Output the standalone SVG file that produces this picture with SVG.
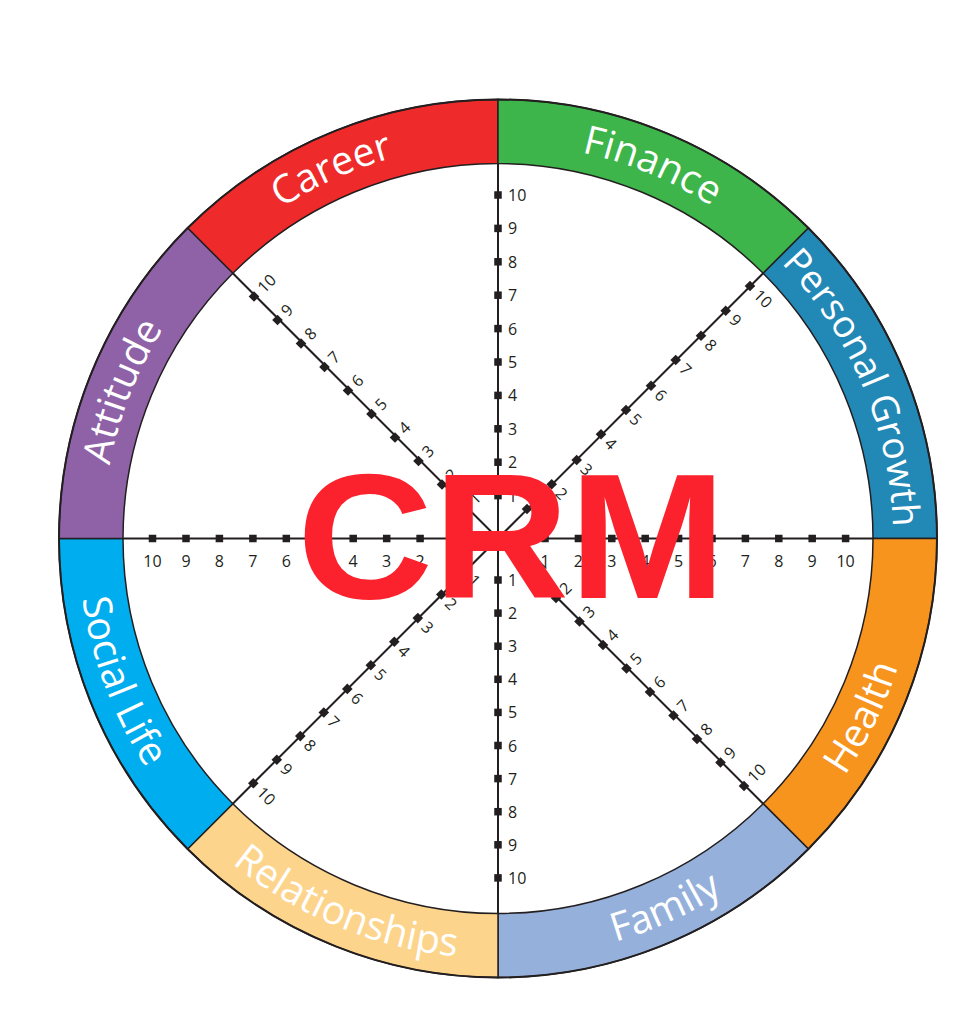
<svg xmlns="http://www.w3.org/2000/svg" xmlns:xlink="http://www.w3.org/1999/xlink" width="958" height="1024" viewBox="0 0 958 1024">
<style>
.seg{stroke:#231f20;stroke-width:1.5}
.ring{font-family:"Open Sans","Liberation Sans",sans-serif;font-size:39.5px;fill:#ffffff}
.pg{font-size:37.5px}
.tk{font-family:"Open Sans","Liberation Sans",sans-serif;font-size:16px;fill:#231f20}
.hc{text-anchor:middle}
.sp{stroke:#231f20;stroke-width:2;fill:none}
.crm{font-family:"Liberation Sans",Arial,sans-serif;font-weight:bold;font-size:178px;fill:#fb222d}
</style>
<defs>
<rect id="sq" x="-3.75" y="-3.75" width="7.5" height="7.5" fill="#231f20"/>
<rect id="dm" x="-3.75" y="-3.75" width="7.5" height="7.5" fill="#231f20" transform="rotate(45)"/>
<path id="p_att" d="M103,538.5 A395,395 0 0 1 218.69,259.19"/>
<path id="p_car" d="M218.69,259.19 A395,395 0 0 1 498,143.5"/>
<path id="p_fin" d="M498,143.5 A395,395 0 0 1 777.31,259.19"/>
<path id="p_pg" d="M777.31,259.19 A395,395 0 0 1 893,538.5"/>
<path id="p_hea" d="M794.98,835.48 A420,420 0 0 0 918,538.5"/>
<path id="p_fam" d="M498,958.5 A420,420 0 0 0 794.98,835.48"/>
<path id="p_rel" d="M201.02,835.48 A420,420 0 0 0 498,958.5"/>
<path id="p_soc" d="M78,538.5 A420,420 0 0 0 201.02,835.48"/>
</defs>
<rect width="958" height="1024" fill="#ffffff"/>

<g id="career">
<path class="seg" fill="#ee2a2b" d="M187.58,228.08 A439,439 0 0 1 498,99.5 L498,163.5 A375,375 0 0 0 232.83,273.33 Z"/>
<text class="ring"><textPath href="#p_car" startOffset="46%" text-anchor="middle">Career</textPath></text>
</g>
<g id="finance">
<path class="seg" fill="#3db54a" d="M498,99.5 A439,439 0 0 1 808.42,228.08 L763.17,273.33 A375,375 0 0 0 498,163.5 Z"/>
<text class="ring"><textPath href="#p_fin" startOffset="50%" text-anchor="middle">Finance</textPath></text>
</g>
<g id="personal-growth">
<path class="seg" fill="#2288b6" d="M808.42,228.08 A439,439 0 0 1 937,538.5 L873,538.5 A375,375 0 0 0 763.17,273.33 Z"/>
<text class="ring pg"><textPath href="#p_pg" startOffset="49%" text-anchor="middle">Personal Growth</textPath></text>
</g>
<g id="health">
<path class="seg" fill="#f7941e" d="M937,538.5 A439,439 0 0 1 808.42,848.92 L763.17,803.67 A375,375 0 0 0 873,538.5 Z"/>
<text class="ring"><textPath href="#p_hea" startOffset="42%" text-anchor="middle">Health</textPath></text>
</g>
<g id="family">
<path class="seg" fill="#95b1db" d="M808.42,848.92 A439,439 0 0 1 498,977.5 L498,913.5 A375,375 0 0 0 763.17,803.67 Z"/>
<text class="ring"><textPath href="#p_fam" startOffset="54%" text-anchor="middle">Family</textPath></text>
</g>
<g id="relationships">
<path class="seg" fill="#fdd48c" d="M498,977.5 A439,439 0 0 1 187.58,848.92 L232.83,803.67 A375,375 0 0 0 498,913.5 Z"/>
<text class="ring"><textPath href="#p_rel" startOffset="50%" text-anchor="middle">Relationships</textPath></text>
</g>
<g id="social-life">
<path class="seg" fill="#00adee" d="M187.58,848.92 A439,439 0 0 1 59,538.5 L123,538.5 A375,375 0 0 0 232.83,803.67 Z"/>
<text class="ring"><textPath href="#p_soc" startOffset="46%" text-anchor="middle">Social Life</textPath></text>
</g>
<g id="attitude">
<path class="seg" fill="#8f62a8" d="M59,538.5 A439,439 0 0 1 187.58,228.08 L232.83,273.33 A375,375 0 0 0 123,538.5 Z"/>
<text class="ring"><textPath href="#p_att" startOffset="47.5%" text-anchor="middle">Attitude</textPath></text>
</g>
<circle cx="498" cy="538.5" r="439" fill="none" stroke="#231f20" stroke-width="2"/>

<g id="connectors">
<line class="sp" x1="498" y1="163.5" x2="498" y2="913.5"/>
<line class="sp" x1="123" y1="538.5" x2="873" y2="538.5"/>
<line class="sp" x1="232.83" y1="273.33" x2="763.17" y2="803.67"/>
<line class="sp" x1="763.17" y1="273.33" x2="232.83" y2="803.67"/>
</g>

<g id="axis-top">
<use href="#sq" x="498" y="195"/><use href="#sq" x="498" y="228.4"/><use href="#sq" x="498" y="261.8"/><use href="#sq" x="498" y="295.2"/><use href="#sq" x="498" y="328.6"/><use href="#sq" x="498" y="362"/><use href="#sq" x="498" y="395.4"/><use href="#sq" x="498" y="428.8"/><use href="#sq" x="498" y="462.2"/><use href="#sq" x="498" y="495.6"/>
<text class="tk" x="508" y="201">10</text><text class="tk" x="508" y="234.4">9</text><text class="tk" x="508" y="267.8">8</text><text class="tk" x="508" y="301.2">7</text><text class="tk" x="508" y="334.6">6</text><text class="tk" x="508" y="368">5</text><text class="tk" x="508" y="401.4">4</text><text class="tk" x="508" y="434.8">3</text><text class="tk" x="508" y="468.2">2</text><text class="tk" x="508" y="501.6">1</text>
</g>
<g id="axis-bottom">
<use href="#sq" x="498" y="580"/><use href="#sq" x="498" y="613.1"/><use href="#sq" x="498" y="646.2"/><use href="#sq" x="498" y="679.3"/><use href="#sq" x="498" y="712.4"/><use href="#sq" x="498" y="745.5"/><use href="#sq" x="498" y="778.6"/><use href="#sq" x="498" y="811.7"/><use href="#sq" x="498" y="844.8"/><use href="#sq" x="498" y="877.9"/>
<text class="tk" x="508" y="586">1</text><text class="tk" x="508" y="619.1">2</text><text class="tk" x="508" y="652.2">3</text><text class="tk" x="508" y="685.3">4</text><text class="tk" x="508" y="718.4">5</text><text class="tk" x="508" y="751.5">6</text><text class="tk" x="508" y="784.6">7</text><text class="tk" x="508" y="817.7">8</text><text class="tk" x="508" y="850.8">9</text><text class="tk" x="508" y="883.9">10</text>
</g>
<g id="axis-left">
<use href="#sq" x="152.5" y="538.5"/><use href="#sq" x="186" y="538.5"/><use href="#sq" x="219.4" y="538.5"/><use href="#sq" x="252.9" y="538.5"/><use href="#sq" x="286.3" y="538.5"/><use href="#sq" x="319.8" y="538.5"/><use href="#sq" x="353.2" y="538.5"/><use href="#sq" x="386.7" y="538.5"/><use href="#sq" x="420.1" y="538.5"/><use href="#sq" x="453.6" y="538.5"/>
<text class="tk hc" x="152.5" y="567">10</text><text class="tk hc" x="186" y="567">9</text><text class="tk hc" x="219.4" y="567">8</text><text class="tk hc" x="252.9" y="567">7</text><text class="tk hc" x="286.3" y="567">6</text><text class="tk hc" x="319.8" y="567">5</text><text class="tk hc" x="353.2" y="567">4</text><text class="tk hc" x="386.7" y="567">3</text><text class="tk hc" x="420.1" y="567">2</text><text class="tk hc" x="453.6" y="567">1</text>
</g>
<g id="axis-right">
<use href="#sq" x="545" y="538.5"/><use href="#sq" x="578.4" y="538.5"/><use href="#sq" x="611.8" y="538.5"/><use href="#sq" x="645.2" y="538.5"/><use href="#sq" x="678.6" y="538.5"/><use href="#sq" x="712" y="538.5"/><use href="#sq" x="745.4" y="538.5"/><use href="#sq" x="778.8" y="538.5"/><use href="#sq" x="812.2" y="538.5"/><use href="#sq" x="845.6" y="538.5"/>
<text class="tk hc" x="545" y="567">1</text><text class="tk hc" x="578.4" y="567">2</text><text class="tk hc" x="611.8" y="567">3</text><text class="tk hc" x="645.2" y="567">4</text><text class="tk hc" x="678.6" y="567">5</text><text class="tk hc" x="712" y="567">6</text><text class="tk hc" x="745.4" y="567">7</text><text class="tk hc" x="778.8" y="567">8</text><text class="tk hc" x="812.2" y="567">9</text><text class="tk hc" x="845.6" y="567">10</text>
</g>
<g id="axis-nw">
<use href="#dm" x="254" y="296.5"/><use href="#dm" x="277.5" y="320"/><use href="#dm" x="301" y="343.5"/><use href="#dm" x="324.5" y="367"/><use href="#dm" x="348" y="390.5"/><use href="#dm" x="371.5" y="414"/><use href="#dm" x="395" y="437.5"/><use href="#dm" x="418.5" y="461"/><use href="#dm" x="442" y="484.5"/><use href="#dm" x="465.5" y="508"/>
<text class="tk" transform="translate(254,296.5) rotate(-45)" x="9" y="5.5">10</text><text class="tk" transform="translate(277.5,320) rotate(-45)" x="9" y="5.5">9</text><text class="tk" transform="translate(301,343.5) rotate(-45)" x="9" y="5.5">8</text><text class="tk" transform="translate(324.5,367) rotate(-45)" x="9" y="5.5">7</text><text class="tk" transform="translate(348,390.5) rotate(-45)" x="9" y="5.5">6</text><text class="tk" transform="translate(371.5,414) rotate(-45)" x="9" y="5.5">5</text><text class="tk" transform="translate(395,437.5) rotate(-45)" x="9" y="5.5">4</text><text class="tk" transform="translate(418.5,461) rotate(-45)" x="9" y="5.5">3</text><text class="tk" transform="translate(442,484.5) rotate(-45)" x="9" y="5.5">2</text><text class="tk" transform="translate(465.5,508) rotate(-45)" x="9" y="5.5">1</text>
</g>
<g id="axis-ne">
<use href="#dm" x="750" y="286"/><use href="#dm" x="725.7" y="310.7"/><use href="#dm" x="701" y="335.7"/><use href="#dm" x="675.7" y="360"/><use href="#dm" x="651" y="385.7"/><use href="#dm" x="626" y="410"/><use href="#dm" x="601" y="434.3"/><use href="#dm" x="576.7" y="460"/><use href="#dm" x="551.7" y="484.3"/><use href="#dm" x="527" y="509"/>
<text class="tk" transform="translate(750,286) rotate(45)" x="9" y="5.5">10</text><text class="tk" transform="translate(725.7,310.7) rotate(45)" x="9" y="5.5">9</text><text class="tk" transform="translate(701,335.7) rotate(45)" x="9" y="5.5">8</text><text class="tk" transform="translate(675.7,360) rotate(45)" x="9" y="5.5">7</text><text class="tk" transform="translate(651,385.7) rotate(45)" x="9" y="5.5">6</text><text class="tk" transform="translate(626,410) rotate(45)" x="9" y="5.5">5</text><text class="tk" transform="translate(601,434.3) rotate(45)" x="9" y="5.5">4</text><text class="tk" transform="translate(576.7,460) rotate(45)" x="9" y="5.5">3</text><text class="tk" transform="translate(551.7,484.3) rotate(45)" x="9" y="5.5">2</text><text class="tk" transform="translate(527,509) rotate(45)" x="9" y="5.5">1</text>
</g>
<g id="axis-se">
<use href="#dm" x="744" y="786"/><use href="#dm" x="720.5" y="762.5"/><use href="#dm" x="697" y="739"/><use href="#dm" x="673.5" y="715.5"/><use href="#dm" x="650" y="692"/><use href="#dm" x="626.5" y="668.5"/><use href="#dm" x="603" y="645"/><use href="#dm" x="579.5" y="621.5"/><use href="#dm" x="556" y="598"/><use href="#dm" x="532.5" y="574.5"/>
<text class="tk" transform="translate(744,786) rotate(-45)" x="9" y="5.5">10</text><text class="tk" transform="translate(720.5,762.5) rotate(-45)" x="9" y="5.5">9</text><text class="tk" transform="translate(697,739) rotate(-45)" x="9" y="5.5">8</text><text class="tk" transform="translate(673.5,715.5) rotate(-45)" x="9" y="5.5">7</text><text class="tk" transform="translate(650,692) rotate(-45)" x="9" y="5.5">6</text><text class="tk" transform="translate(626.5,668.5) rotate(-45)" x="9" y="5.5">5</text><text class="tk" transform="translate(603,645) rotate(-45)" x="9" y="5.5">4</text><text class="tk" transform="translate(579.5,621.5) rotate(-45)" x="9" y="5.5">3</text><text class="tk" transform="translate(556,598) rotate(-45)" x="9" y="5.5">2</text><text class="tk" transform="translate(532.5,574.5) rotate(-45)" x="9" y="5.5">1</text>
</g>
<g id="axis-sw">
<use href="#dm" x="253.3" y="783.3"/><use href="#dm" x="276.8" y="759.7"/><use href="#dm" x="300.3" y="736.1"/><use href="#dm" x="323.8" y="712.5"/><use href="#dm" x="347.3" y="688.9"/><use href="#dm" x="370.8" y="665.3"/><use href="#dm" x="394.3" y="641.7"/><use href="#dm" x="417.8" y="618.1"/><use href="#dm" x="441.3" y="594.5"/><use href="#dm" x="464.8" y="570.9"/>
<text class="tk" transform="translate(253.3,783.3) rotate(45)" x="9" y="5.5">10</text><text class="tk" transform="translate(276.8,759.7) rotate(45)" x="9" y="5.5">9</text><text class="tk" transform="translate(300.3,736.1) rotate(45)" x="9" y="5.5">8</text><text class="tk" transform="translate(323.8,712.5) rotate(45)" x="9" y="5.5">7</text><text class="tk" transform="translate(347.3,688.9) rotate(45)" x="9" y="5.5">6</text><text class="tk" transform="translate(370.8,665.3) rotate(45)" x="9" y="5.5">5</text><text class="tk" transform="translate(394.3,641.7) rotate(45)" x="9" y="5.5">4</text><text class="tk" transform="translate(417.8,618.1) rotate(45)" x="9" y="5.5">3</text><text class="tk" transform="translate(441.3,594.5) rotate(45)" x="9" y="5.5">2</text><text class="tk" transform="translate(464.8,570.9) rotate(45)" x="9" y="5.5">1</text>
</g>

<g id="crm-title">
<text class="crm" x="297" y="598" textLength="429" lengthAdjust="spacingAndGlyphs">CRM</text>
</g>
</svg>
